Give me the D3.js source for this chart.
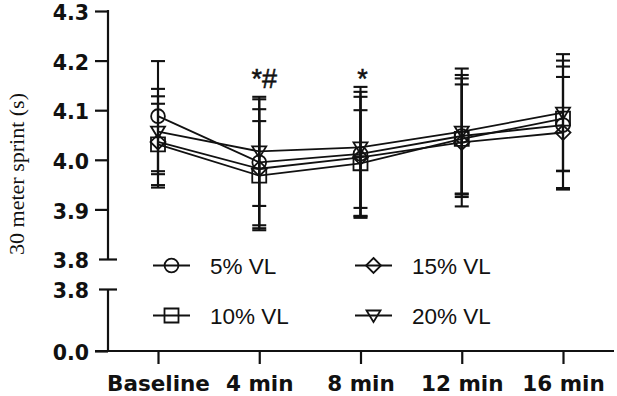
<!DOCTYPE html>
<html>
<head>
<meta charset="utf-8">
<script src="https://cdn.jsdelivr.net/npm/d3@7"></script>
<style>
  html, body { margin: 0; padding: 0; background: #fff; }
  svg { display: block; }
</style>
</head>
<body>
<svg id="chart" width="617" height="396"></svg>
<script>
// ---- data ----
const categories = ["Baseline", "4 min", "8 min", "12 min", "16 min"];
const seriesNames = ["5% VL", "10% VL", "15% VL", "20% VL"];
const mean5  = [4.088, 3.995, 4.012, 4.048, 4.070];
const sd5    = [0.111, 0.127, 0.125, 0.123, 0.130];
const mean10 = [4.031, 3.968, 3.993, 4.042, 4.083];
const sd10   = [0.082, 0.110, 0.107, 0.110, 0.105];
const mean15 = [4.036, 3.982, 4.005, 4.035, 4.055];
const sd15   = [0.092, 0.120, 0.122, 0.129, 0.112];
const mean20 = [4.057, 4.017, 4.025, 4.057, 4.095];
const sd20   = [0.086, 0.110, 0.122, 0.127, 0.118];
const upperTicks = [3.8, 3.9, 4.0, 4.1, 4.2, 4.3];
const lowerTicks = [0.0, 3.8];
const annotations = [{cat: "4 min", text: "*#"}, {cat: "8 min", text: "*"}];
const yTitle = "30 meter sprint (s)";

const series = [
  {name: seriesNames[0], mean: mean5,  sd: sd5,  sym: "circle"},
  {name: seriesNames[1], mean: mean10, sd: sd10, sym: "square"},
  {name: seriesNames[2], mean: mean15, sd: sd15, sym: "diamond"},
  {name: seriesNames[3], mean: mean20, sd: sd20, sym: "triangle"}
];

// ---- layout ----
const svg = d3.select("#chart");
svg.append("rect").attr("width", 617).attr("height", 396).attr("fill", "#fff");
const axisX = 108;
const x = d3.scalePoint().domain(categories).range([158, 563]);
const yU = d3.scaleLinear().domain([3.8, 4.3]).range([259, 11]);
const yL = d3.scaleLinear().domain([0, 3.8]).range([351, 289]);
const ink = "#111";

function symbolPath(type) {
  switch (type) {
    case "circle": { const r = 6.9; return `M${-r},0A${r},${r} 0 1,0 ${r},0A${r},${r} 0 1,0 ${-r},0Z`; }
    case "square": return "M-7,-7H7V7H-7Z";
    case "diamond": return "M0,-7.5L7.5,0L0,7.5L-7.5,0Z";
    case "triangle": return "M-7,-5H7L0,6.5Z";
  }
}

// ---- axes ----
function styleAxis(g, cross) {
  g.select(".domain").remove();
  g.selectAll(".tick line").attr("stroke", ink).attr("stroke-width", 2.2);
  g.selectAll(".tick text")
    .attr("fill", ink)
    .attr("font-family", "'DejaVu Sans', sans-serif")
    .attr("font-weight", "bold")
    .attr("font-size", 20.5)
    .attr("dy", "0.42em");
  g.selectAll(".tick").filter(d => d === cross).select("line")
    .attr("x1", -9).attr("x2", 9);
}
const gU = svg.append("g").attr("transform", `translate(${axisX},0)`)
  .call(d3.axisLeft(yU).tickValues(upperTicks).tickSize(13).tickPadding(6).tickFormat(d3.format(".1f")));
styleAxis(gU, 3.8);
const gL = svg.append("g").attr("transform", `translate(${axisX},0)`)
  .call(d3.axisLeft(yL).tickValues(lowerTicks).tickSize(13).tickPadding(6).tickFormat(d3.format(".1f")));
styleAxis(gL, 3.8);

svg.append("line").attr("x1", axisX).attr("x2", axisX).attr("y1", yU(4.3) - 1).attr("y2", yU(3.8))
  .attr("stroke", ink).attr("stroke-width", 2.2);
svg.append("line").attr("x1", axisX).attr("x2", axisX).attr("y1", yL(3.8)).attr("y2", yL(0))
  .attr("stroke", ink).attr("stroke-width", 2.2);

const gX = svg.append("g").attr("transform", `translate(0,${yL(0)})`)
  .call(d3.axisBottom(x).tickSize(13).tickPadding(12));
gX.select(".domain").remove();
gX.selectAll(".tick line").attr("stroke", ink).attr("stroke-width", 2.2);
gX.selectAll(".tick text")
  .attr("fill", ink)
  .attr("font-family", "'DejaVu Sans', sans-serif")
  .attr("font-weight", "bold")
  .attr("font-size", 21.5);
svg.append("line").attr("x1", 95).attr("x2", 614).attr("y1", yL(0)).attr("y2", yL(0))
  .attr("stroke", ink).attr("stroke-width", 2.2);

// y title
svg.append("text")
  .attr("transform", `translate(24,174) rotate(-90)`)
  .attr("text-anchor", "middle")
  .attr("font-family", "'Liberation Serif', 'Times New Roman', serif")
  .attr("font-size", 22)
  .attr("fill", ink)
  .text(yTitle);

// ---- series ----
const line = d3.line().x((d, i) => x(categories[i])).y(d => yU(d));
series.forEach(s => {
  svg.append("path").attr("d", line(s.mean)).attr("fill", "none")
    .attr("stroke", ink).attr("stroke-width", 1.8);
});
series.forEach(s => {
  const g = svg.append("g").attr("stroke", ink).attr("stroke-width", 2.1);
  s.mean.forEach((m, i) => {
    const cx = x(categories[i]);
    const hi = yU(m + s.sd[i]), lo = yU(m - s.sd[i]);
    g.append("line").attr("x1", cx).attr("x2", cx).attr("y1", hi).attr("y2", lo);
    g.append("line").attr("x1", cx - 7).attr("x2", cx + 7).attr("y1", hi).attr("y2", hi);
    g.append("line").attr("x1", cx - 7).attr("x2", cx + 7).attr("y1", lo).attr("y2", lo);
  });
});
series.forEach(s => {
  svg.append("g").selectAll("path").data(s.mean).join("path")
    .attr("transform", (d, i) => `translate(${x(categories[i])},${yU(d)})`)
    .attr("d", symbolPath(s.sym))
    .attr("fill", "none").attr("stroke", ink).attr("stroke-width", 1.8);
});

// annotations
annotations.forEach((a, k) => {
  svg.append("text")
    .attr("x", x(a.cat) + (k === 0 ? 5 : 2)).attr("y", 88)
    .attr("text-anchor", "middle")
    .attr("font-family", "'Liberation Sans', Arial, sans-serif")
    .attr("font-size", 27).attr("fill", ink)
    .attr("stroke", ink).attr("stroke-width", 0.5)
    .text(a.text);
});

// ---- legend ----
const legendPos = [[153, 265.5], [153, 315.5], [355, 265.5], [355, 315.5]];
series.forEach((s, i) => {
  const [lx, ly] = legendPos[i];
  const g = svg.append("g").attr("transform", `translate(${lx},${ly})`);
  g.append("line").attr("x1", 0).attr("x2", 37).attr("y1", 0).attr("y2", 0)
    .attr("stroke", ink).attr("stroke-width", 1.8);
  g.append("path").attr("transform", "translate(18.5,0)").attr("d", symbolPath(s.sym))
    .attr("fill", "none").attr("stroke", ink).attr("stroke-width", 1.8);
  g.append("text").attr("x", 57).attr("y", 8)
    .attr("font-family", "'Liberation Sans', Arial, sans-serif")
    .attr("font-size", 22.5).attr("fill", ink)
    .text(s.name);
});
</script>
</body>
</html>
